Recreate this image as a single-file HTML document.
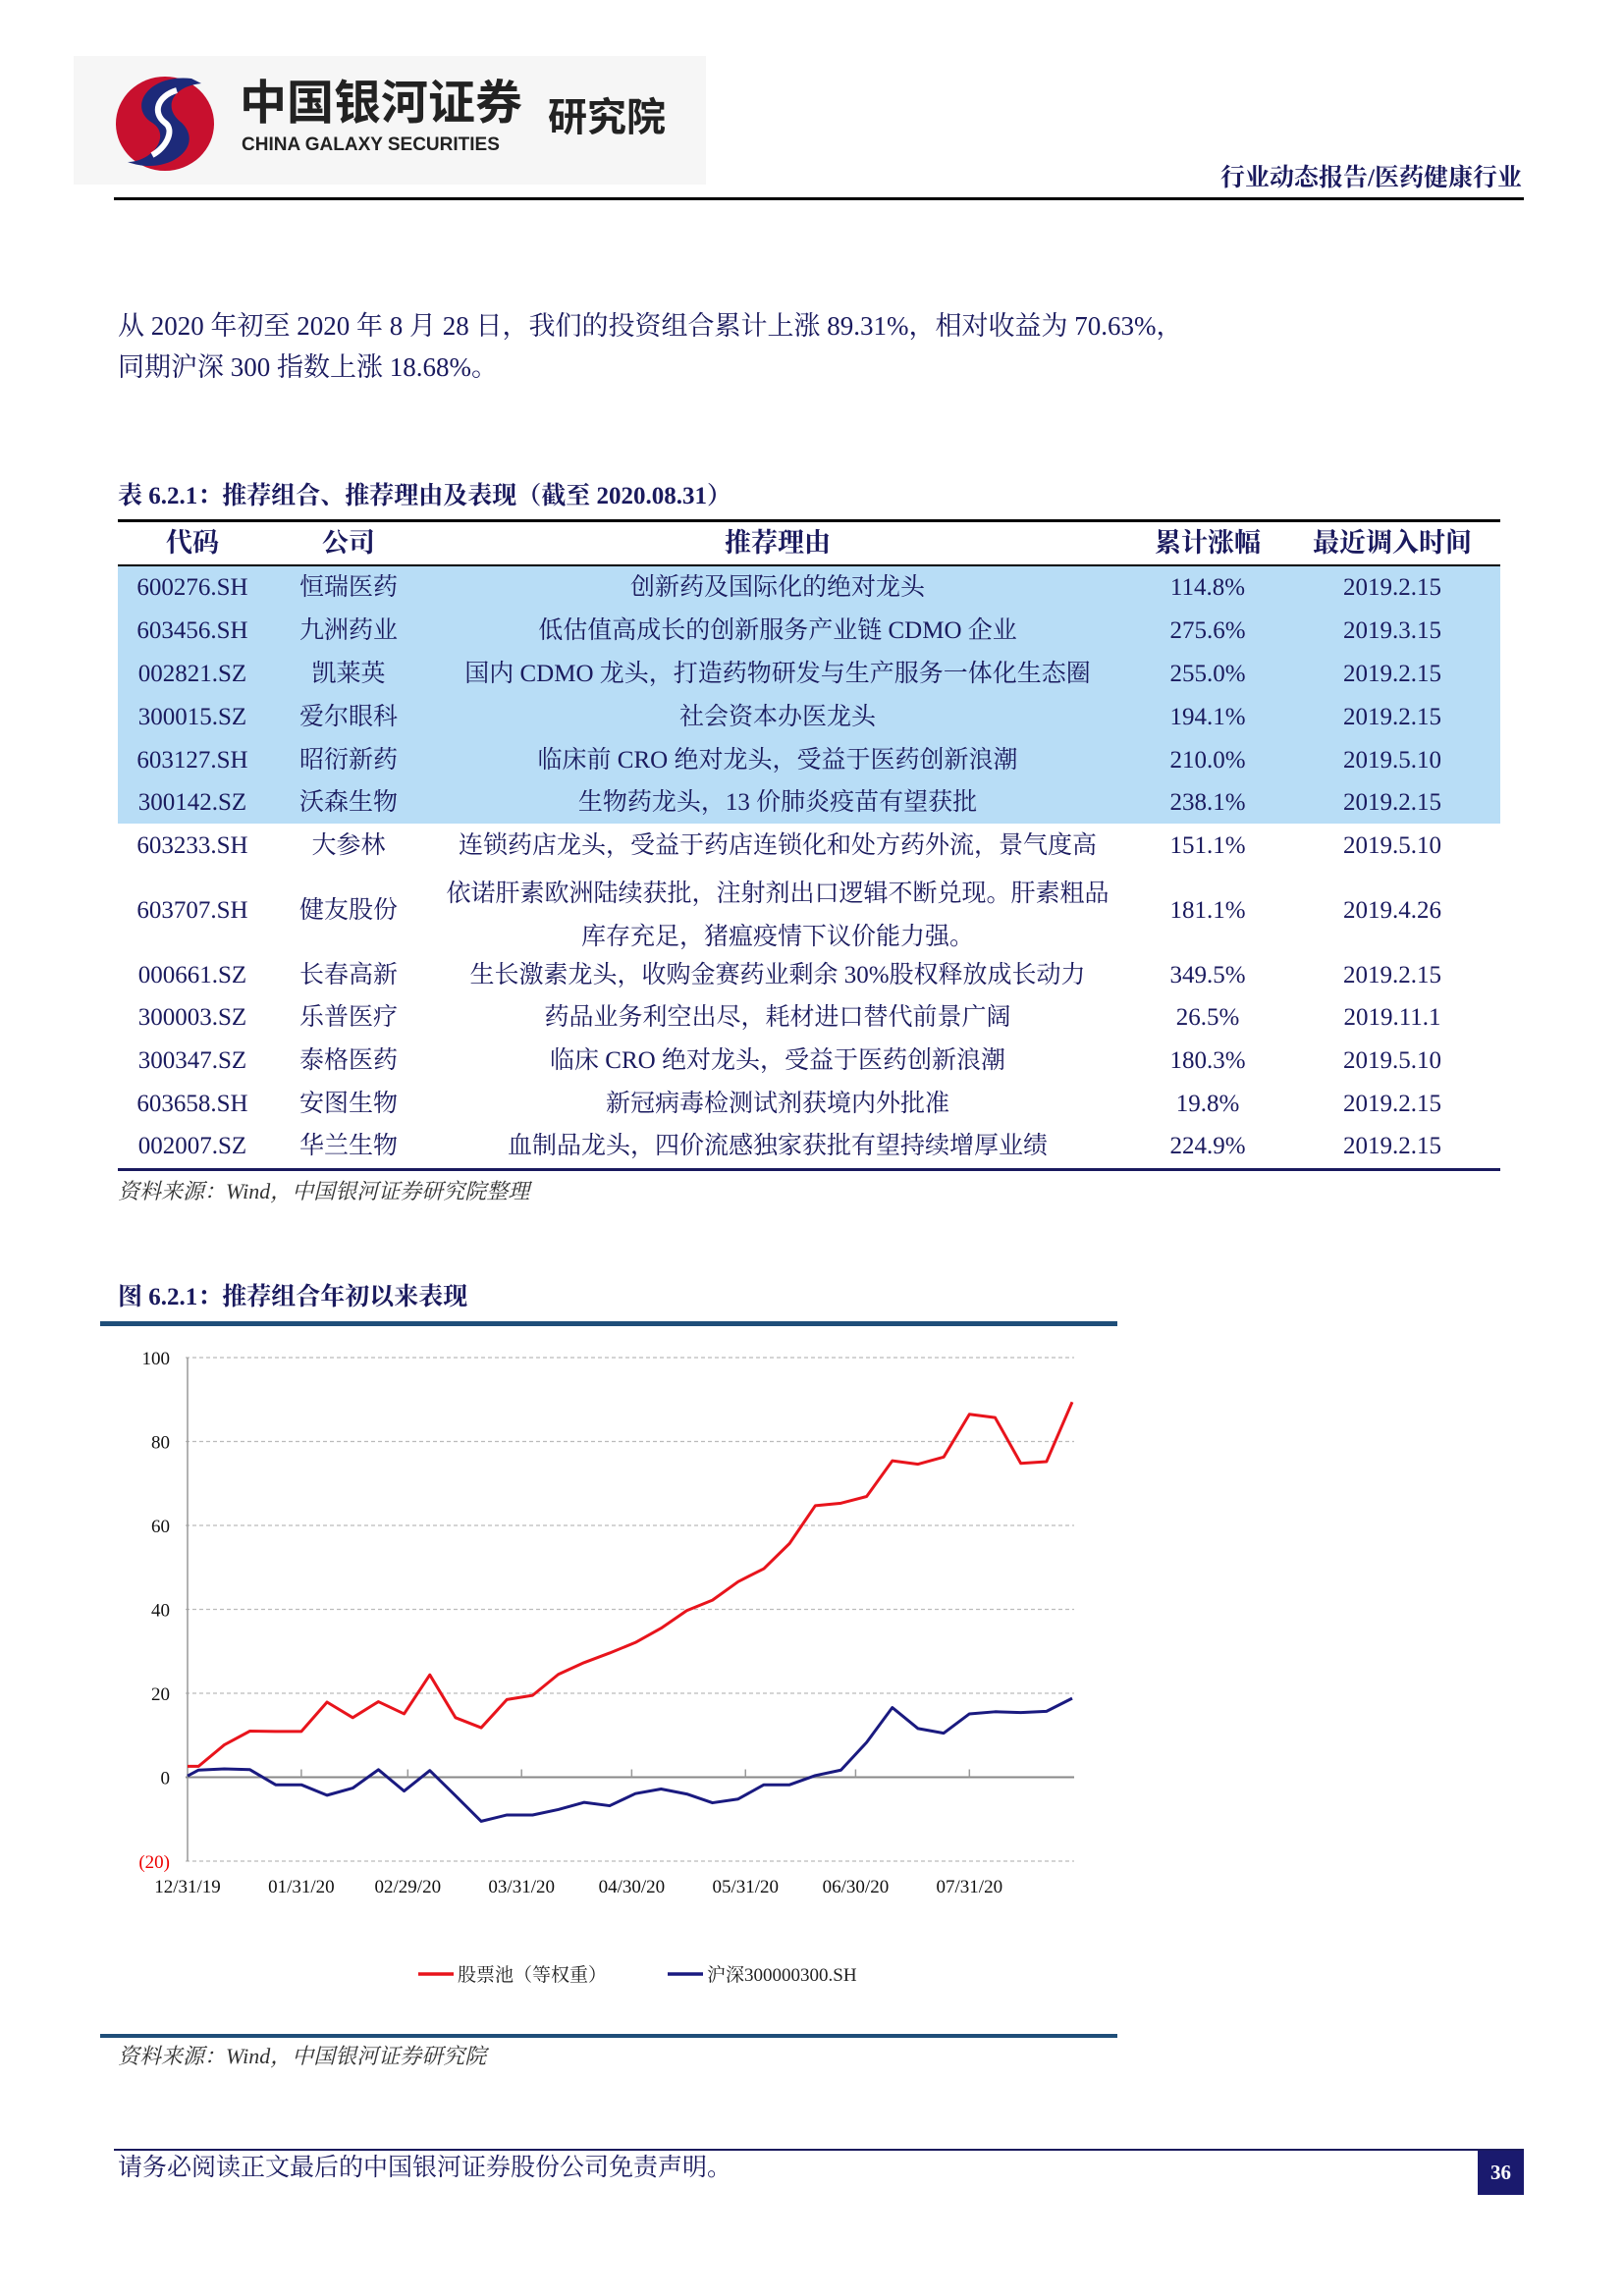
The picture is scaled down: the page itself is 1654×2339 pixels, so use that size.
<!DOCTYPE html>
<html><head><meta charset="utf-8"><style>
body{margin:0;background:#fff;}
#page{position:relative;width:1654px;height:2339px;overflow:hidden;background:#fff;font-family:"Liberation Serif","Noto Serif CJK SC",serif;color:#1a1a5e;}
.abs{position:absolute;white-space:nowrap;line-height:1.2;}
.row{position:absolute;left:120px;width:1408px;}
.cell{position:absolute;top:0;transform:translateX(-50%);white-space:nowrap;font-size:25px;line-height:34px;text-align:center;}
</style></head><body>
<div id="page">
<div class="abs" style="left:75px;top:57px;width:644px;height:131px;background:#f6f6f6;"></div>
<svg class="abs" style="left:110px;top:70px" width="120" height="110" viewBox="0 0 120 110">
<ellipse cx="58" cy="56" rx="50" ry="48" fill="#c8102e"/>
<path d="M85 10 C40 5 20 40 45 55 C65 68 45 95 20 95 C60 110 100 80 75 55 C55 40 65 18 95 15 Z" fill="#1d2a7a"/>
<path d="M70 22 C50 28 45 45 58 55 C68 62 60 80 45 88" stroke="#fff" stroke-width="6" fill="none"/>
</svg>
<div class="abs" style="left:244px;top:82px;line-height:1;font-family:'Liberation Sans','Noto Sans CJK SC',sans-serif;font-weight:bold;font-size:48px;color:#222;">中国银河证券</div>
<div class="abs" style="left:246px;top:138px;line-height:1;font-family:'Liberation Sans',sans-serif;font-weight:bold;font-size:19px;color:#222;">CHINA GALAXY SECURITIES</div>
<div class="abs" style="left:558px;top:100px;line-height:1;font-family:'Liberation Sans','Noto Sans CJK SC',sans-serif;font-weight:bold;font-size:40px;color:#222;">研究院</div>
<div class="abs" style="right:104px;top:167px;font-weight:bold;font-size:25px;color:#1a1a5e;">行业动态报告/医药健康行业</div>
<div class="abs" style="left:116px;top:201px;width:1436px;height:3px;background:#000;"></div>

<div class="abs" style="left:120px;top:316px;font-size:27px;">从 2020 年初至 2020 年 8 月 28 日，我们的投资组合累计上涨 89.31%，相对收益为 70.63%，</div>
<div class="abs" style="left:120px;top:358px;font-size:27px;">同期沪深 300 指数上涨 18.68%。</div>

<div class="abs" style="left:120px;top:491px;font-size:25px;font-weight:bold;">表 6.2.1：推荐组合、推荐理由及表现（截至 2020.08.31）</div>
<div class="abs" style="left:120px;top:529px;width:1408px;height:3px;background:#000;"></div>
<div class="row" style="top:536px;height:38px;font-weight:bold;">
<div class="cell" style="left:76px;font-weight:bold;font-size:27px;">代码</div>
<div class="cell" style="left:235px;font-weight:bold;font-size:27px;">公司</div>
<div class="cell" style="left:672px;font-weight:bold;font-size:27px;">推荐理由</div>
<div class="cell" style="left:1110px;font-weight:bold;font-size:27px;">累计涨幅</div>
<div class="cell" style="left:1298px;font-weight:bold;font-size:27px;">最近调入时间</div>
</div>
<div class="abs" style="left:120px;top:575px;width:1408px;height:2px;background:#000;"></div>
<div class="abs" style="left:120px;top:577px;width:1408px;height:262px;background:#b8ddf6;"></div>
<div id="tbody"></div>
<div class="abs" style="left:120px;top:1190px;width:1408px;height:3px;background:#1a1a5e;"></div>
<div class="abs" style="left:120px;top:1201px;font-size:22px;font-style:italic;color:#333;">资料来源：Wind，中国银河证券研究院整理</div>

<div class="abs" style="left:120px;top:1307px;font-size:25px;font-weight:bold;">图 6.2.1：推荐组合年初以来表现</div>
<div class="abs" style="left:102px;top:1346px;width:1036px;height:5px;background:#1f4e79;"></div>
<svg id="chart" class="abs" style="left:0;top:0" width="1654" height="2339"></svg>
<div class="abs" style="left:102px;top:2072px;width:1036px;height:4px;background:#1f4e79;"></div>
<div class="abs" style="left:120px;top:2082px;font-size:22px;font-style:italic;color:#333;">资料来源：Wind，中国银河证券研究院</div>

<div class="abs" style="left:116px;top:2189px;width:1436px;height:2px;background:#1a1a5e;"></div>
<div class="abs" style="left:120px;top:2194px;font-size:25px;">请务必阅读正文最后的中国银河证券股份公司免责声明。</div>
<div class="abs" style="left:1505px;top:2191px;width:47px;height:45px;background:#1a1a6e;color:#fff;font-weight:bold;font-size:21px;text-align:center;line-height:45px;">36</div>
</div>
<script>
const rows=[
["600276.SH","恒瑞医药","创新药及国际化的绝对龙头","114.8%","2019.2.15",599],
["603456.SH","九洲药业","低估值高成长的创新服务产业链 CDMO 企业","275.6%","2019.3.15",643],
["002821.SZ","凯莱英","国内 CDMO 龙头，打造药物研发与生产服务一体化生态圈","255.0%","2019.2.15",687],
["300015.SZ","爱尔眼科","社会资本办医龙头","194.1%","2019.2.15",731],
["603127.SH","昭衍新药","临床前 CRO 绝对龙头，受益于医药创新浪潮","210.0%","2019.5.10",775],
["300142.SZ","沃森生物","生物药龙头，13 价肺炎疫苗有望获批","238.1%","2019.2.15",818],
["603233.SH","大参林","连锁药店龙头，受益于药店连锁化和处方药外流，景气度高","151.1%","2019.5.10",862],
["603707.SH","健友股份","","181.1%","2019.4.26",928],
["000661.SZ","长春高新","生长激素龙头，收购金赛药业剩余 30%股权释放成长动力","349.5%","2019.2.15",994],
["300003.SZ","乐普医疗","药品业务利空出尽，耗材进口替代前景广阔","26.5%","2019.11.1",1037],
["300347.SZ","泰格医药","临床 CRO 绝对龙头，受益于医药创新浪潮","180.3%","2019.5.10",1081],
["603658.SH","安图生物","新冠病毒检测试剂获境内外批准","19.8%","2019.2.15",1125],
["002007.SZ","华兰生物","血制品龙头，四价流感独家获批有望持续增厚业绩","224.9%","2019.2.15",1168]];
const cx=[76,235,672,1110,1298];
const tb=document.getElementById('tbody');
rows.forEach(r=>{
 const d=document.createElement('div');d.className='row';d.style.top=(r[5]-17)+'px';d.style.height='34px';
 
 
 for(let i=0;i<5;i++){const c=document.createElement('div');c.className='cell';c.style.left=cx[i]+'px';c.textContent=r[i];
  if(r[0]==="603707.SH"&&i===2){c.innerHTML='依诺肝素欧洲陆续获批，注射剂出口逻辑不断兑现。肝素粗品<br>库存充足，猪瘟疫情下议价能力强。';c.style.top='-22px';c.style.lineHeight='44px';}
  d.appendChild(c);}
 tb.appendChild(d);
});
</script>
<script>
const dates=["2019-12-31","2020-01-03","2020-01-10","2020-01-17","2020-01-24","2020-01-31","2020-02-07","2020-02-14","2020-02-21","2020-02-28","2020-03-06","2020-03-13","2020-03-20","2020-03-27","2020-04-03","2020-04-10","2020-04-17","2020-04-24","2020-05-01","2020-05-08","2020-05-15","2020-05-22","2020-05-29","2020-06-05","2020-06-12","2020-06-19","2020-06-26","2020-07-03","2020-07-10","2020-07-17","2020-07-24","2020-07-31","2020-08-07","2020-08-14","2020-08-21","2020-08-28"];
const poolValues=[2.6,2.6,7.7,11.0,10.9,10.9,17.9,14.2,18.0,15.1,24.4,14.2,11.8,18.5,19.5,24.5,27.3,29.6,32.1,35.5,39.7,42.2,46.6,49.7,55.7,64.7,65.3,66.9,75.4,74.6,76.3,86.5,85.7,74.8,75.2,89.4];
const hs300Values=[0.3,1.7,2.0,1.8,-1.8,-1.8,-4.3,-2.6,1.8,-3.3,1.6,-4.4,-10.5,-9.0,-9.0,-7.7,-6.0,-6.8,-3.9,-2.8,-4.0,-6.1,-5.2,-1.8,-1.8,0.4,1.7,8.3,16.6,11.6,10.5,15.1,15.6,15.4,15.7,18.8];
const yTicks=[100,80,60,40,20,0,-20];
const yTickLabels=["100","80","60","40","20","0","(20)"];
const xTickDates=["2019-12-31","2020-01-31","2020-02-29","2020-03-31","2020-04-30","2020-05-31","2020-06-30","2020-07-31"];
const xTickLabels=["12/31/19","01/31/20","02/29/20","03/31/20","04/30/20","05/31/20","06/30/20","07/31/20"];
const NS='http://www.w3.org/2000/svg';
const svg=document.getElementById('chart');
const X0=191,X1=1092,Y0=1383,Y1=1896,XR=1094;
const t0=Date.parse(dates[0]),t1=Date.parse(dates[dates.length-1]);
const xs=d=>X0+(Date.parse(d)-t0)/(t1-t0)*(X1-X0);
const ys=v=>Y0+(100-v)/120*(Y1-Y0);
function el(tag,attrs){const e=document.createElementNS(NS,tag);for(const k in attrs)e.setAttribute(k,attrs[k]);svg.appendChild(e);return e;}
yTicks.forEach((v,i)=>{
 const g=el('line',{x1:X0-2,x2:XR,y1:ys(v),y2:ys(v),stroke:v===0?'#888':'#bbb','stroke-width':v===0?2:1.2,'stroke-dasharray':v===0?'':'4,3'});
 
 
 const t=el('text',{x:X0-18,y:ys(v)+7,'text-anchor':'end','font-size':19,fill:v<0?'#e00':'#111','font-family':'Liberation Serif, serif'});
 t.textContent=yTickLabels[i];
 
 
});
const ax=el('line',{x1:X0,x2:X0,y1:Y0,y2:Y1,stroke:'#999','stroke-width':1.5});


xTickDates.forEach((d,i)=>{
 const x=xs(d);
 if(i>0){const tk=el('line',{x1:x,x2:x,y1:ys(0)-8,y2:ys(0),stroke:'#999','stroke-width':1.5});
 
 }
 const t=el('text',{x:x,y:1928,'text-anchor':'middle','font-size':19,fill:'#111','font-family':'Liberation Serif, serif'});
 t.textContent=xTickLabels[i];
 
 
});
function line(vals,color,name){
 const p=el('polyline',{points:vals.map((v,i)=>xs(dates[i])+','+ys(v)).join(' '),fill:'none',stroke:color,'stroke-width':3,'stroke-linejoin':'round'});
 
 
}
line(poolValues,'#e8141c','series-stock-pool');
line(hs300Values,'#1a1a80','series-hs300');
const L1=el('line',{x1:426,x2:462,y1:2011,y2:2011,stroke:'#e8141c','stroke-width':3.5});


const T1=el('text',{x:466,y:2018,'font-size':19,fill:'#222','font-family':'Liberation Serif, Noto Serif CJK SC, serif'});T1.textContent='股票池（等权重）';


const L2=el('line',{x1:680,x2:716,y1:2011,y2:2011,stroke:'#1a1a80','stroke-width':3.5});


const T2=el('text',{x:720,y:2018,'font-size':19,fill:'#222','font-family':'Liberation Serif, Noto Serif CJK SC, serif'});T2.textContent='沪深300000300.SH';


</script>
</body></html>
